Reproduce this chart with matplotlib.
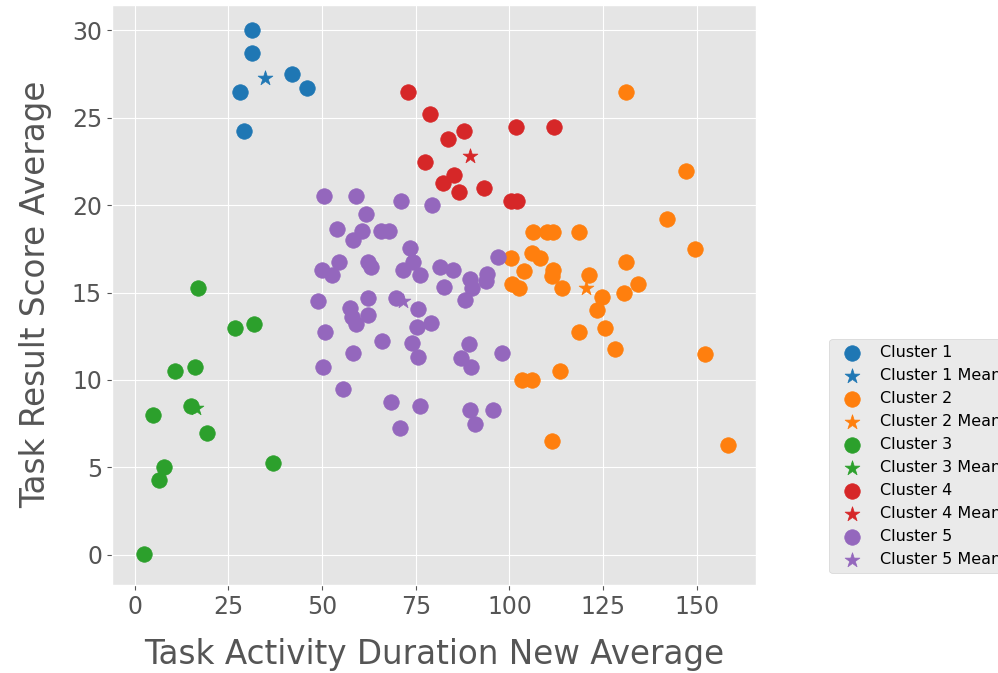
import numpy as np
import matplotlib
matplotlib.use('Agg')
import matplotlib.pyplot as plt

plt.style.use('ggplot')

# Cluster members (duration, score)
c1_x = [31.4, 31.4, 42.1, 46.1, 28.05, 29.2]
c1_y = [30.0, 28.72, 27.5, 26.73, 26.47, 24.23]

c2_x = [131.1, 147.1, 142.0, 149.5, 131.0, 134.3, 130.5, 106.3, 109.9, 111.7, 118.5,
        100.3, 105.9, 108.1, 103.9, 111.7, 111.3, 100.7, 102.45, 114.1, 121.3, 124.8,
        123.25, 125.5, 118.6, 128.2, 113.5, 103.4, 106.1, 111.25, 152.2, 158.2]
c2_y = [26.47, 21.98, 19.22, 17.5, 16.72, 15.5, 15.0, 18.47, 18.47, 18.47, 18.47,
        17.0, 17.25, 16.97, 16.22, 16.3, 15.95, 15.5, 15.25, 15.25, 16.0, 14.75,
        14.02, 12.99, 12.73, 11.76, 10.5, 10.0, 10.0, 6.49, 11.5, 6.26]

c3_x = [17.0, 26.7, 31.8, 10.7, 16.2, 5.0, 15.1, 19.4, 7.9, 6.6, 37.0, 2.5]
c3_y = [15.23, 12.98, 13.22, 10.5, 10.76, 8.01, 8.51, 6.98, 5.0, 4.26, 5.27, 0.02]

c4_x = [73.0, 78.8, 87.9, 83.5, 101.65, 111.8, 77.5, 85.2, 82.2, 86.45, 93.1, 100.3, 102.1]
c4_y = [26.47, 25.24, 24.25, 23.76, 24.48, 24.48, 22.48, 21.73, 21.24, 20.74, 21.0, 20.25, 20.25]

c5_x = [50.45, 59.15, 71.1, 79.4, 61.65, 54.1, 60.75, 58.35, 65.7, 67.9,
        73.5, 54.45, 62.2, 63.1, 50.0, 52.75, 71.5, 74.35, 76.1, 81.5,
        85.0, 82.6, 89.5, 89.9, 88.1, 94.1, 93.8, 96.85, 49.0, 57.5,
        58.1, 59.0, 62.35, 62.35, 69.7, 50.8, 66.1, 58.35, 75.2, 79.0,
        75.7, 73.9, 75.6, 50.35, 55.7, 68.4, 70.8, 76.2, 89.3, 87.0,
        89.65, 97.9, 89.5, 90.8, 95.7]
c5_y = [20.53, 20.53, 20.26, 19.98, 19.5, 18.66, 18.51, 18.01, 18.51, 18.51,
        17.54, 16.75, 16.75, 16.45, 16.3, 16.01, 16.26, 16.77, 16.01, 16.48,
        16.3, 15.34, 15.75, 15.25, 14.55, 16.05, 15.65, 17.02, 14.5, 14.1,
        13.6, 13.2, 13.72, 14.7, 14.7, 12.75, 12.25, 11.53, 13.05, 13.25,
        14.05, 12.1, 11.3, 10.76, 9.49, 8.76, 7.27, 8.5, 12.04, 11.24,
        10.76, 11.53, 8.28, 7.48, 8.28]

clusters = [(c1_x, c1_y), (c2_x, c2_y), (c3_x, c3_y), (c4_x, c4_y), (c5_x, c5_y)]
colors = ['#1f77b4', '#ff7f0e', '#2ca02c', '#d62728', '#9467bd']

fig = plt.figure(figsize=(9.98, 6.73), dpi=100)
ax = fig.add_axes([0.112, 0.131, 0.646, 0.862])

for i, (xs, ys) in enumerate(clusters):
    ax.scatter(xs, ys, s=125, color=colors[i], label='Cluster %d' % (i + 1))
    ax.scatter(np.mean(xs), np.mean(ys), s=125, marker='*', color=colors[i],
               label='Cluster %d Mean' % (i + 1))

ax.set_xlim(-6.1, 165.9)
ax.set_ylim(-1.73, 31.47)
ax.set_xticks([0, 25, 50, 75, 100, 125, 150])
ax.set_yticks([0, 5, 10, 15, 20, 25, 30])
ax.tick_params(labelsize=17)

ax.set_xlabel('Task Activity Duration New Average', fontsize=23.5, labelpad=14)
ax.set_ylabel('Task Result Score Average', fontsize=23.5, labelpad=14)

# legend sits outside the axes and runs off the right edge, as in the original
ax.legend(loc='center left', bbox_to_anchor=(1.113, 0.222), borderaxespad=0,
          fontsize=11.5)

fig.savefig('out.png', dpi=100)
